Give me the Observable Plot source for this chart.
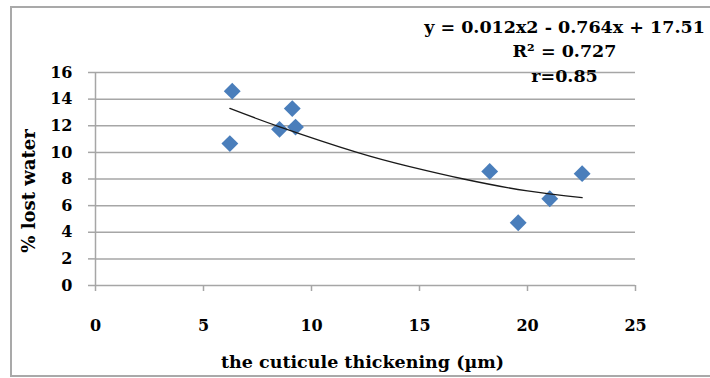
<!DOCTYPE html>
<html><head><meta charset="utf-8">
<script src="https://cdn.jsdelivr.net/npm/d3@7"></script>
<script src="https://cdn.jsdelivr.net/npm/@observablehq/plot@0.6"></script>
<style>
body{margin:0;background:#fff;}
#wrap{position:relative;width:710px;height:378px;overflow:hidden;background:#fff;}
#border{position:absolute;left:10px;top:6px;width:730px;height:371px;border:2px solid #a9a9a9;box-sizing:border-box;pointer-events:none;}
</style></head><body><div id="wrap"><div id="border"></div></div>
<script>
const thickness = [6.33, 6.22, 8.52, 9.11, 9.26, 18.25, 19.57, 21.03, 22.53];
const lostWater = [14.6, 10.66, 11.73, 13.29, 11.9, 8.57, 4.71, 6.52, 8.4];
const trendX = [6.22, 8.56, 12.11, 14.5, 17.04, 20, 22.53];
const trendY = [13.3, 11.9, 10.0, 8.95, 8.0, 7.1, 6.6];
const xTicks = [0, 5, 10, 15, 20, 25];
const yTicks = [0, 2, 4, 6, 8, 10, 12, 14, 16];
const equationLines = ["y = 0.012x2 - 0.764x + 17.51", "R² = 0.727", "r=0.85"];
const xLabel = "the cuticule thickening (µm)";
const yLabel = "% lost water";

const points = thickness.map((x, i) => ({x, y: lostWater[i]}));
const trend = trendX.map((x, i) => ({x, y: trendY[i]}));
const grid = "#a6a6a6";

const chart = Plot.plot({
  width: 710, height: 378,
  marginLeft: 95, marginRight: 75, marginTop: 72, marginBottom: 93,
  style: {fontFamily: "'DejaVu Serif', serif", fontWeight: "bold", fontSize: "16px", background: "transparent", color: "#000", overflow: "visible"},
  x: {domain: [0, 25], label: null},
  y: {domain: [0, 16], label: null},
  marks: [
    Plot.ruleY(yTicks, {x1: 0, x2: 25, stroke: grid, strokeWidth: 1.5}),
    Plot.ruleX([0], {y1: 0, y2: 16, stroke: grid, strokeWidth: 1.5}),
    Plot.axisY({ticks: yTicks, tickSize: 7, tickPadding: 16, stroke: grid, strokeWidth: 1.5, fill: "#000"}),
    Plot.axisX({ticks: xTicks, tickSize: 6, tickPadding: 28, stroke: grid, strokeWidth: 1.5, fill: "#000"}),
    Plot.dot(points, {x: "x", y: "y", symbol: "diamond2", r: 7.6, fill: "#4a7ebb"}),
    Plot.line(trend, {x: "x", y: "y", curve: "natural", stroke: "#1a1a1a", strokeWidth: 1.3}),
    Plot.text([equationLines.join("\n")], {frameAnchor: "top", dx: 199, dy: -57, lineAnchor: "top", lineHeight: 1.4, fontSize: 17.5, textAnchor: "middle", fill: "#000"}),
    Plot.text([xLabel], {frameAnchor: "bottom", dx: -3, dy: 77, lineAnchor: "middle", fontSize: 17.5, fill: "#000"}),
    Plot.text([yLabel], {frameAnchor: "left", dx: -66, dy: 12, rotate: -90, textAnchor: "middle", lineAnchor: "middle", fontSize: 18, fill: "#000"})
  ]
});
document.getElementById("wrap").prepend(chart);
</script>
</body></html>
